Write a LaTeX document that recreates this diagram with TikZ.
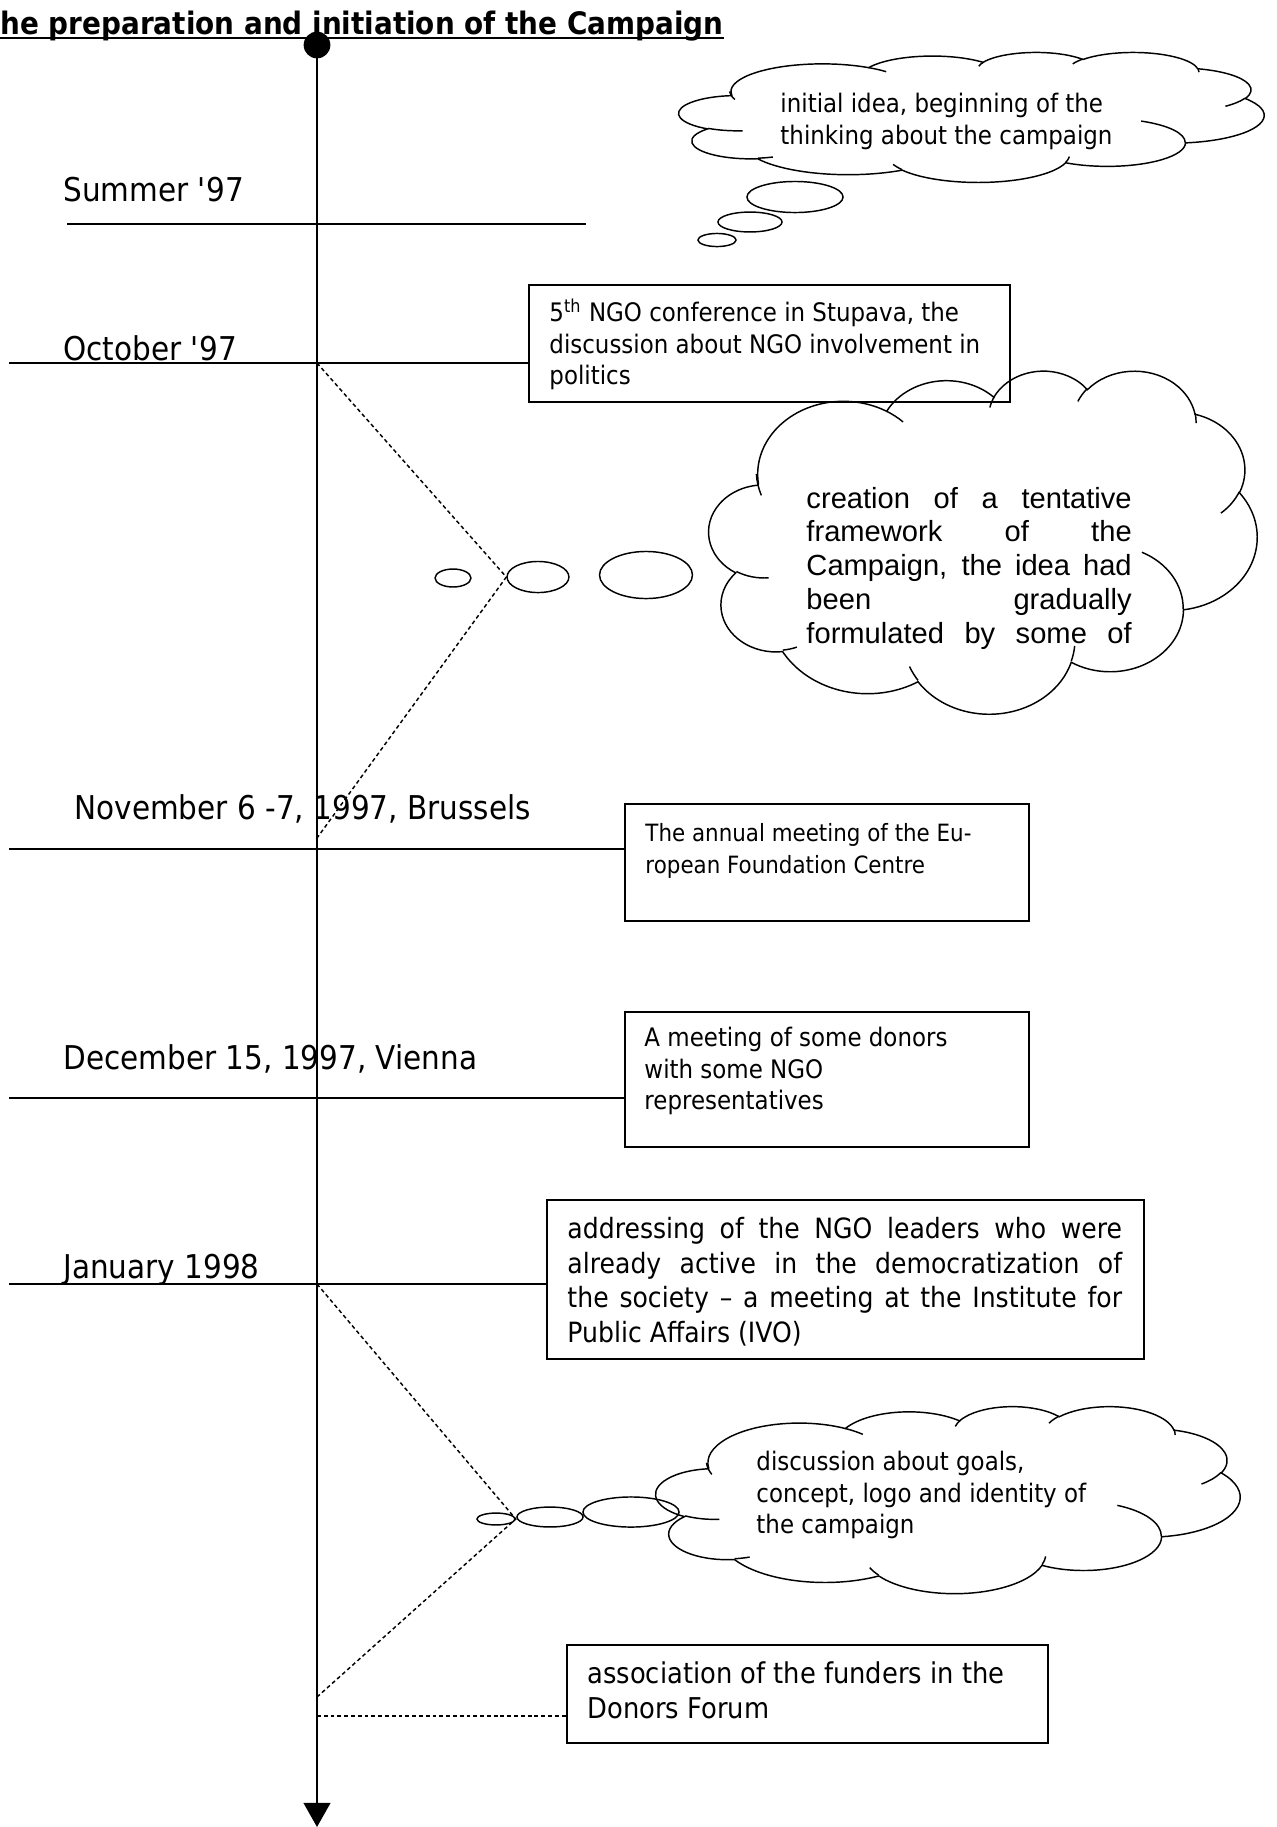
\documentclass[tikz,border=0pt]{standalone}
\usepackage{fontspec}
\setmainfont{DejaVu Sans}[FakeStretch=0.9]
\newfontfamily\arialfam{Liberation Sans}
\usetikzlibrary{arrows.meta,positioning,shapes.geometric}

% one bump of a callout cloud: x radius, y radius, start angle, sweep (visual angles)
\tikzset{
  puff/.code n args={4}{%
    \pgfmathsetmacro\pfs{atan2(#1*sin(#3),#2*cos(#3))}%
    \pgfmathsetmacro\pfe{atan2(#1*sin(#3+#4),#2*cos(#3+#4))}%
    \pgfmathsetmacro\pfd{mod(\pfe-\pfs+720,360)}%
    \edef\pfnext{\noexpand\tikzset{insert path={arc[start angle=\pfs,delta angle=\pfd,x radius=#1,y radius=#2]}}}%
    \pfnext},
  pics/thought/.style 2 args={code={
    \begin{scope}[x={#1/432*0.412pt},y={-#2/432*0.412pt},line width=0.6pt]
      \draw (39,143.7)
        [puff={67.53}{91.90}{-190.4875}{123.7805}]
        [puff={53.33}{72.67}{-144.1024}{89.9452}]
        [puff={43.65}{59.45}{-145.8079}{99.7230}]
        [puff={48.57}{65.95}{-130.9861}{117.2417}]
        [puff={53.33}{72.73}{-78.7089}{109.0269}]
        [puff={67.75}{92.20}{-46.2673}{130.2690}]
        [puff={57.85}{78.67}{0.6250}{114.0333}]
        [puff={67.52}{92.15}{22.4516}{115.1726}]
        [puff={77.20}{105.43}{66.2426}{75.7110}]
        [puff={43.60}{59.18}{-274.9421}{146.7356}]
        [puff={43.45}{59.45}{-246.8285}{152.5226}] -- cycle;
      % inner folds
      \draw (46.93,261.77) [puff={43.45}{59.45}{86.7420}{26.4295}]
        (69.28,348.99) [puff={43.60}{59.18}{73.6105}{11.4475}]
        (164.78,390.90) [puff={67.52}{92.15}{137.6242}{14.0811}]
        (288.27,347.51) [puff={67.52}{92.15}{6.4533}{15.9984}]
        (341.29,229.54) [puff={57.85}{78.67}{-70.2924}{70.9174}]
        (417.98,153.54) [puff={53.33}{72.73}{30.3180}{27.7515}]
        (383.24,54.26) [puff={48.57}{65.95}{-13.7443}{14.8589}]
        (290.78,39.52) [puff={48.57}{65.95}{-149.1815}{18.1954}]
        (221.41,47.20) [puff={43.65}{59.45}{-163.4943}{17.6864}]
        (140.00,51.92) [puff={67.53}{91.90}{-66.7070}{12.3194}]
        (41.27,157.89) [puff={67.53}{91.90}{153.9488}{22.4544}];
    \end{scope}}}
}

\begin{document}
\begin{tikzpicture}[x=0.412pt,y=-0.412pt,
  datelbl/.style={anchor=base west,inner sep=0pt,font=\fontsize{13.5}{16}\selectfont},
  note/.style={anchor=north west,inner sep=0pt,align=left,font=\fontsize{10.5}{13}\selectfont},
  bignote/.style={note,font=\fontsize{11.8}{14.2}\selectfont},
  frame/.style={draw,line width=0.8pt,anchor=north west,inner sep=0pt},
  bubble/.style={ellipse,draw,line width=0.6pt,inner sep=0pt},
  tick/.style={line width=0.7pt},
  dotline/.style={line width=0.6pt,dash pattern=on 1.6pt off 1.2pt},
  axis/.style={line width=1.1pt,-{Triangle[width=11pt,length=10pt]}}]
\useasboundingbox (0,0) rectangle (1277,1827);

% title
\node[anchor=base west,inner sep=0pt,font=\bfseries\fontsize{12.75}{15}\selectfont] (title) at (0,34)
  {he preparation and initiation of the Campaign};
\draw[line width=0.8pt] ([yshift=-1.6pt]title.base west) -- ([yshift=-1.6pt]title.base east);

% thought clouds
\pic (cidea) at (679,52) {thought={585}{130}};
\pic (cframe) at (709,370) {thought={548}{343}};
\pic (cgoals) at (656,1406) {thought={584}{187}};

\node[bubble,minimum width=39.6pt,minimum height=12.8pt] (ideaC) at (795,197) {};
\node[bubble,minimum width=26.4pt,minimum height=8.2pt] (ideaB) at (750,222) {};
\node[bubble,minimum width=15.7pt,minimum height=5.4pt] (ideaA) at (717,240) {};
\node[bubble,minimum width=14.8pt,minimum height=7.4pt] (frameA) at (453,578) {};
\node[bubble,minimum width=25.5pt,minimum height=12.8pt] (frameB) at (538,577) {};
\node[bubble,minimum width=38.3pt,minimum height=19.4pt] (frameC) at (646,575) {};
\node[bubble,minimum width=15.7pt,minimum height=4.9pt] (goalsA) at (496,1519) {};
\node[bubble,minimum width=27.2pt,minimum height=8.2pt] (goalsB) at (550,1517) {};
\node[bubble,minimum width=39.6pt,minimum height=12.4pt] (goalsC) at (631,1512) {};

\node[note] (ideatxt) at (780,90) {\strut initial idea, beginning of the\\thinking about the campaign};
\node[note,font=\arialfam\fontsize{12}{13.9}\selectfont] (frametxt) at (806,484)
  {\strut\makebox[134pt][s]{creation of a tentative}\\
   \makebox[134pt][s]{framework of the}\\
   \makebox[134pt][s]{Campaign, the idea had}\\
   \makebox[134pt][s]{been gradually}\\
   \makebox[134pt][s]{formulated by some of}};
\node[note] (goalstxt) at (756,1448) {\strut discussion about goals,\\concept, logo and identity of\\the campaign};

% event boxes
\node[frame,minimum width=198.2pt,minimum height=48.2pt] (stupava) at (528,284) {};
\node[note] (stupavatxt) at (549,298)
  {\strut 5\textsuperscript{th} NGO conference in Stupava, the\\discussion about NGO involvement in\\politics};
\node[frame,minimum width=166.4pt,minimum height=48.2pt] (efc) at (624,803) {};
\node[note,font=\fontsize{9.8}{13}\selectfont] (efctxt) at (645,819) {\strut The annual meeting of the Eu-\\ropean Foundation Centre};
\node[frame,minimum width=166.4pt,minimum height=55.6pt] (donors) at (624,1011) {};
\node[note] (donorstxt) at (644,1024) {\strut A meeting of some donors\\with some NGO\\representatives};
\node[frame,minimum width=246pt,minimum height=65.5pt] (ivo) at (546,1199) {};
\node[bignote,font=\fontsize{11.5}{14.2}\selectfont] (ivotxt) at (567,1214)
  {\strut\makebox[228.5pt][s]{addressing of the NGO leaders who were}\\
   \makebox[228.5pt][s]{already active in the democratization of}\\
   \makebox[228.5pt][s]{the society -- a meeting at the Institute for}\\
   Public Affairs (IVO)};
\node[frame,minimum width=198.2pt,minimum height=40.4pt] (forum) at (566,1644) {};
\node[bignote] (forumtxt) at (587,1659) {\strut association of the funders in the\\Donors Forum};

% dates
\node[datelbl] (summer) at (63,201) {Summer \textquotesingle 97};
\node[datelbl] (october) at (63,360) {October \textquotesingle 97};
\node[datelbl] (november) at (74,819) {November 6 -7, 1997, Brussels};
\node[datelbl] (december) at (63,1069) {December 15, 1997, Vienna};
\node[datelbl] (january) at (63,1278) {January 1998};

\coordinate (octL) at (9,363);
\coordinate (novL) at (9,849);
\coordinate (decL) at (9,1098);
\coordinate (janL) at (9,1284);
\draw[tick] ([shift={(4,23)}]summer.base west) -- ++(519,0);
\draw[tick] (octL) -- (octL -| stupava.west);
\draw[tick] (novL) -- (novL -| efc.west);
\draw[tick] (decL) -- (decL -| donors.west);
\draw[tick] (janL) -- (janL -| ivo.west);

% time axis
\node[circle,fill,inner sep=0pt,minimum size=11pt] (start) at (317,45) {};
\coordinate (tail) at (317,1827);
\draw[axis] (start.center) -- (tail);

% dotted links
\coordinate (octend) at (317,838);
\coordinate (janend) at (317,1697);
\coordinate (forumL) at (317,1716);
\draw[dotline] (octL -| start) -- (frameB.west) -- (octend);
\draw[dotline] (janL -| start) -- (goalsA.east) -- (janend);
\draw[dotline] (forumL) -- (forumL -| forum.west);
\end{tikzpicture}
\end{document}
